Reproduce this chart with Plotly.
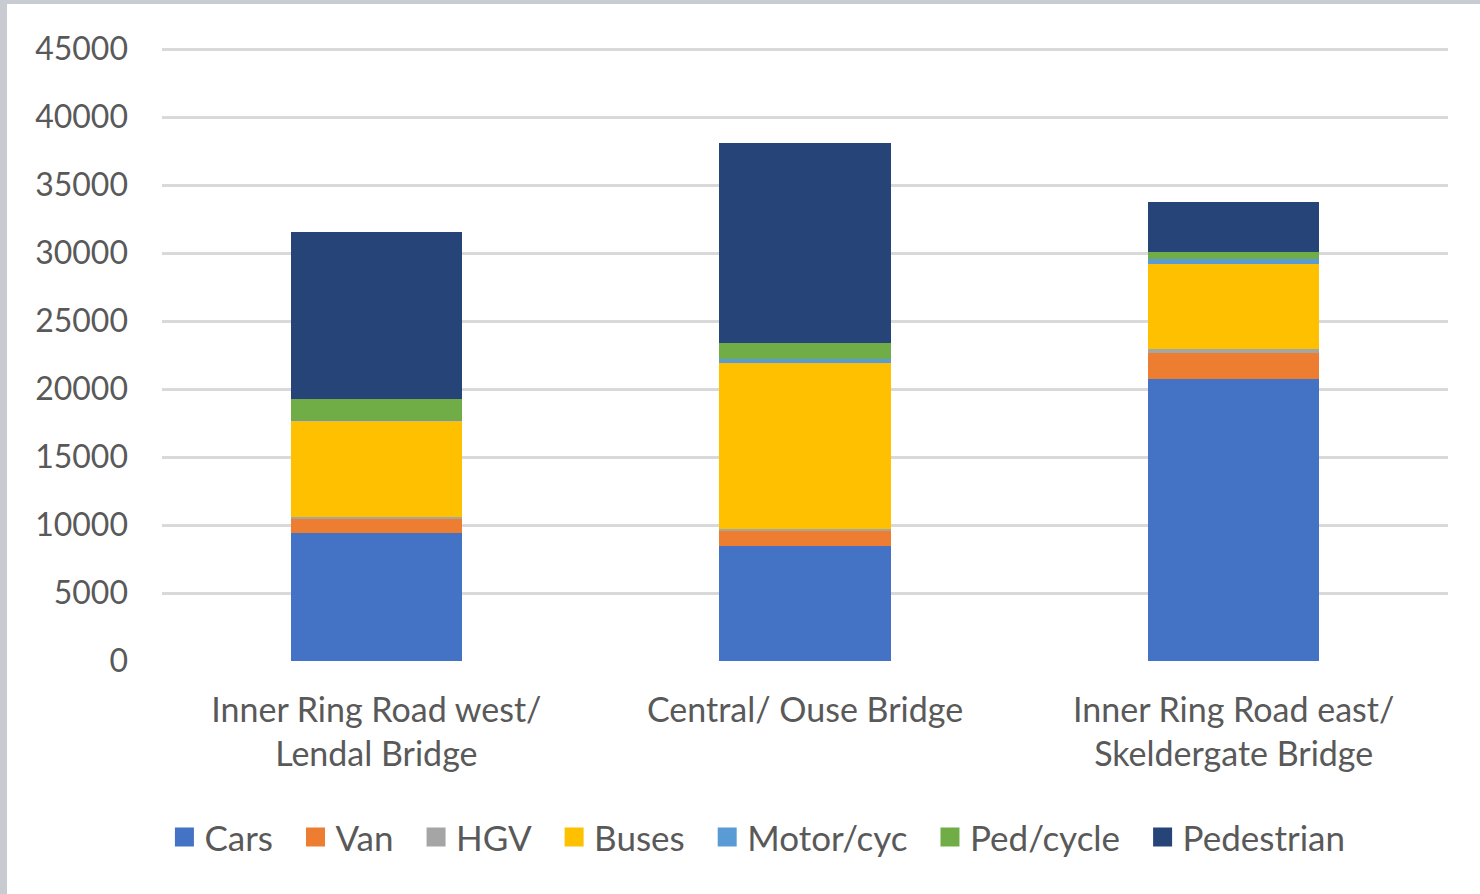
import plotly.graph_objects as go

categories = ["Inner Ring Road west/<br>Lendal Bridge", "Central/ Ouse Bridge",
              "Inner Ring Road east/<br>Skeldergate Bridge"]
series_names = ["Cars", "Van", "HGV", "Buses", "Motor/cyc", "Ped/cycle", "Pedestrian"]
cars = [9390, 8480, 20740]
van = [1030, 1060, 1890]
hgv = [150, 150, 290]
buses = [7100, 12230, 6290]
motorcyc = [80, 270, 320]
pedcycle = [1530, 1180, 540]
pedestrian = [12260, 14720, 3650]
y_ticks = [0, 5000, 10000, 15000, 20000, 25000, 30000, 35000, 40000, 45000]

colors = ["#4472C4", "#ED7D31", "#A5A5A5", "#FFC000", "#5B9BD5", "#70AD47", "#264478"]
values = [cars, van, hgv, buses, motorcyc, pedcycle, pedestrian]

FONT = "Lato"
TXT = "#595959"

fig = go.Figure()
for name, vals, col in zip(series_names, values, colors):
    fig.add_trace(go.Bar(x=categories, y=vals, name=name, marker_color=col,
                         marker_line_width=0, showlegend=False))
# legend entries with larger square symbols (en space pads gap between entries)
for name, col in zip(series_names, colors):
    fig.add_trace(go.Scatter(x=[None], y=[None], mode="markers", name=name + "\u2002",
                             marker=dict(symbol="square", size=18, color=col,
                                         line=dict(width=3, color=col)),
                             showlegend=True))

fig.update_layout(
    barmode="stack",
    bargap=0.6,
    width=1480, height=894,
    margin=dict(l=162, r=32, t=48, b=233),
    paper_bgcolor="white",
    plot_bgcolor="white",
    font=dict(family=FONT, color=TXT, size=32),
    legend=dict(orientation="h", traceorder="normal", x=0.47, xanchor="center",
                y=-0.2876, yanchor="middle",
                font=dict(size=35, color=TXT), itemwidth=30),
    xaxis=dict(showgrid=False, showline=False, ticks="", zeroline=False,
               tickfont=dict(size=34, color=TXT), ticklabelstandoff=26),
    yaxis=dict(range=[0, 45080], tickvals=y_ticks, tickformat="d", showgrid=True,
               gridcolor="#D9D9D9", gridwidth=3, zeroline=False, showline=False,
               ticks="", tickfont=dict(size=32, color=TXT), ticklabelstandoff=33),
    shapes=[
        dict(type="rect", xref="paper", yref="paper", x0=-162/1286, x1=-155/1286,
             y0=-233/613, y1=(613+48)/613, fillcolor="#C8CBD2", line_width=0, layer="above"),
        dict(type="rect", xref="paper", yref="paper", x0=-162/1286, x1=(1286+32)/1286,
             y0=(613+44)/613, y1=(613+48)/613, fillcolor="#C8CBD2", line_width=0, layer="above"),
    ],
)

fig.write_html("out.html", config={"displayModeBar": False},
               post_script="document.body.style.margin='0';")
